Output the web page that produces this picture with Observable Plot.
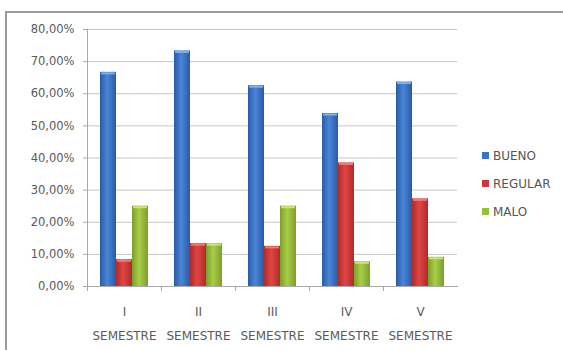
<!DOCTYPE html>
<html><head><meta charset="utf-8">
<script src="https://cdn.jsdelivr.net/npm/d3@7"></script>
<script src="https://cdn.jsdelivr.net/npm/@observablehq/plot@0.6"></script>
<style>
html,body{margin:0;padding:0;background:#fff;}
#wrap{position:relative;width:563px;height:350px;overflow:hidden;font-family:"DejaVu Sans",sans-serif;}
#border{position:absolute;left:5px;top:11px;width:600px;height:400px;border-left:2px solid #9c9c9c;border-top:2px solid #9c9c9c;}
#chart{position:absolute;left:0;top:0;}
.leg{position:absolute;left:482px;font-size:12px;color:#555;line-height:14px;white-space:nowrap;}
.leg span{display:inline-block;width:7px;height:7px;margin-right:4px;vertical-align:1px;}
</style>
</head><body>
<svg width="0" height="0" style="position:absolute">
  <defs>
    <linearGradient id="gB" x1="0" x2="1" y1="0" y2="0">
      <stop offset="0" stop-color="#2a5aa6"/><stop offset="0.45" stop-color="#4a86d6"/><stop offset="1" stop-color="#2a5aa6"/>
    </linearGradient>
    <linearGradient id="gR" x1="0" x2="1" y1="0" y2="0">
      <stop offset="0" stop-color="#b02a2a"/><stop offset="0.45" stop-color="#e04646"/><stop offset="1" stop-color="#b02a2a"/>
    </linearGradient>
    <linearGradient id="gG" x1="0" x2="1" y1="0" y2="0">
      <stop offset="0" stop-color="#7c9e2c"/><stop offset="0.45" stop-color="#a9cd48"/><stop offset="1" stop-color="#7c9e2c"/>
    </linearGradient>
  </defs>
</svg>
<div id="wrap"><div id="border"></div><div id="chart"></div><div id="legend"></div></div>
<script>
const semestres = ["I", "II", "III", "IV", "V"];
const series = ["BUENO", "REGULAR", "MALO"];
const bueno = [66.67, 73.33, 62.5, 53.85, 63.64];
const regular = [8.33, 13.33, 12.5, 38.46, 27.27];
const malo = [25, 13.33, 25, 7.69, 9.09];
const yTicks = [0, 10, 20, 30, 40, 50, 60, 70, 80];
const legendColors = ["#3a72c4", "#cc3838", "#96bf3c"];
const capColors = ["#7fb0ee", "#f07a7a", "#c8e47a"];

const valuesBySeries = [bueno, regular, malo];
const data = semestres.flatMap((s, i) => series.map((k, j) => ({sem: s, serie: k, value: valuesBySeries[j][i]})));
const fmt = d => d.toFixed(2).replace(".", ",") + "%";
const axisColor = "#a8a8a8";

const chart = Plot.plot({
  width: 563, height: 350,
  marginLeft: 85, marginRight: 105, marginTop: 29, marginBottom: 64,
  style: {background: "transparent", fontFamily: "DejaVu Sans", fontSize: "11.5px", color: "#5a5a5a"},
  fx: {domain: semestres, padding: 0, label: null},
  x: {domain: series, paddingInner: 0, paddingOuter: 0.73, axis: null},
  y: {domain: [0, 80], label: null},
  color: {domain: series, range: ["url(#gB)", "url(#gR)", "url(#gG)"]},
  marks: [
    Plot.gridY(yTicks, {stroke: "#c6c6c6", strokeOpacity: 1}),
    Plot.barY(data, {fx: "sem", x: "serie", y: "value", fill: "serie"}),
    ...series.map((s, j) => Plot.tickY(data, {filter: d => d.serie === s, fx: "sem", x: "serie", y: "value", stroke: capColors[j], strokeWidth: 2, dy: 1, insetLeft: 1, insetRight: 1})),
    Plot.frame({anchor: "bottom", stroke: axisColor}),
    Plot.frame({anchor: "left", stroke: axisColor, insetTop: 257, insetBottom: -4}),
    Plot.frame({anchor: "left", stroke: axisColor, facet: "super"}),
    Plot.axisY(yTicks, {tickSize: 4, tickPadding: 9, tickFormat: fmt, stroke: axisColor, label: null}),
    Plot.axisFx({anchor: "bottom", tickSize: 0, tickPadding: 13, lineHeight: 1.95, fontSize: 12, tickFormat: d => d + "\nSEMESTRE", label: null})
  ]
});
document.getElementById("chart").appendChild(chart);

const legend = document.getElementById("legend");
const legendTops = [149, 177, 205];
series.forEach((s, i) => {
  const div = document.createElement("div");
  div.className = "leg";
  div.style.top = legendTops[i] + "px";
  div.innerHTML = `<span style="background:${legendColors[i]}"></span>${s}`;
  legend.appendChild(div);
});
</script>
</body></html>
